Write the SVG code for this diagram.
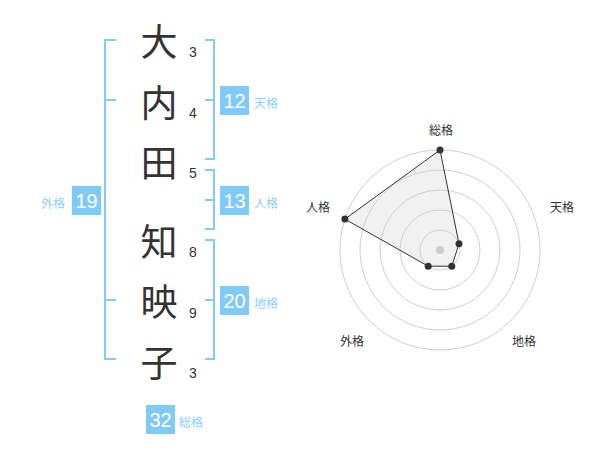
<svg xmlns="http://www.w3.org/2000/svg" width="600" height="470" viewBox="0 0 600 470">
<style>
.ch{font-family:"Noto Sans CJK JP","Noto Sans CJK SC",sans-serif;font-size:37px;fill:#333;text-anchor:middle;dominant-baseline:central}
.st{font-family:"Liberation Sans","Noto Sans",sans-serif;font-size:14px;fill:#333;text-anchor:middle}
.br{fill:none;stroke:#82cdf7;stroke-width:2}
.bx{fill:#7fcaf7}
.bn{font-family:"Liberation Sans","Noto Sans",sans-serif;font-size:20px;fill:#fff;text-anchor:middle}
.bl{font-family:"Noto Sans CJK JP",sans-serif;font-size:12px;fill:#8dd0f5}
.rl{font-family:"Noto Sans CJK JP",sans-serif;font-size:12px;fill:#333;text-anchor:middle}
.ring{fill:none;stroke:#cfcfcf;stroke-width:1}
.dot{fill:#333}
</style>
<rect width="600" height="470" fill="#fff"/>
<g id="name">
<text class="ch" x="159" y="40">大</text>
<text class="ch" x="159" y="101">内</text>
<text class="ch" x="159" y="161">田</text>
<text class="ch" x="159" y="240">知</text>
<text class="ch" x="159" y="300">映</text>
<text class="ch" x="159" y="361">子</text>
<text class="st" x="193" y="57">3</text>
<text class="st" x="193" y="118">4</text>
<text class="st" x="193" y="178">5</text>
<text class="st" x="193" y="257">8</text>
<text class="st" x="193" y="318">9</text>
<text class="st" x="193" y="378">3</text>
</g>
<g id="connectors">
<path class="br" d="M116,40 H105 V359 H116 M105,100 H116 M105,300 H116"/>
<path class="br" d="M205,40 H214 V159 H205 M205,100 H214"/>
<path class="br" d="M205,170 H214 V229 H205 M205,200 H214"/>
<path class="br" d="M205,240 H214 V359 H205 M205,300 H214"/>
</g>
<g id="tenkaku">
<rect class="bx" x="220" y="86" width="29" height="29"/>
<text class="bn" x="234.5" y="107.5">12</text>
<text class="bl" x="254" y="108">天格</text>
</g>
<g id="jinkaku">
<rect class="bx" x="220" y="186" width="29" height="29"/>
<text class="bn" x="234.5" y="207.5">13</text>
<text class="bl" x="254" y="208">人格</text>
</g>
<g id="chikaku">
<rect class="bx" x="220" y="286" width="29" height="29"/>
<text class="bn" x="234.5" y="307.5">20</text>
<text class="bl" x="254" y="308">地格</text>
</g>
<g id="gaikaku">
<rect class="bx" x="72" y="186" width="29" height="29"/>
<text class="bn" x="86.5" y="207.5">19</text>
<text class="bl" x="41" y="208">外格</text>
</g>
<g id="soukaku">
<rect class="bx" x="146" y="405" width="29" height="29"/>
<text class="bn" x="160.5" y="426.5">32</text>
<text class="bl" x="179" y="427">総格</text>
</g>
<g id="radar">
<polygon points="440,150 459,243.8 451.8,266.2 428.2,266.2 344.9,219.1" fill="#e8e8e8" fill-opacity="0.6" stroke="none"/>
<circle class="ring" cx="440" cy="250" r="20"/>
<circle class="ring" cx="440" cy="250" r="40"/>
<circle class="ring" cx="440" cy="250" r="60"/>
<circle class="ring" cx="440" cy="250" r="80"/>
<circle class="ring" cx="440" cy="250" r="100"/>
<polygon points="440,150 459,243.8 451.8,266.2 428.2,266.2 344.9,219.1" fill="none" stroke="#333" stroke-width="1"/>
<circle cx="440" cy="250" r="4" fill="#ccc"/>
<circle class="dot" cx="440" cy="150" r="3.5"/>
<circle class="dot" cx="459" cy="243.8" r="3.5"/>
<circle class="dot" cx="451.8" cy="266.2" r="3.5"/>
<circle class="dot" cx="428.2" cy="266.2" r="3.5"/>
<circle class="dot" cx="344.9" cy="219.1" r="3.5"/>
<text class="rl" x="441" y="135">総格</text>
<text class="rl" x="562" y="212">天格</text>
<text class="rl" x="524" y="346">地格</text>
<text class="rl" x="352" y="346">外格</text>
<text class="rl" x="318" y="212">人格</text>
</g>
</svg>
